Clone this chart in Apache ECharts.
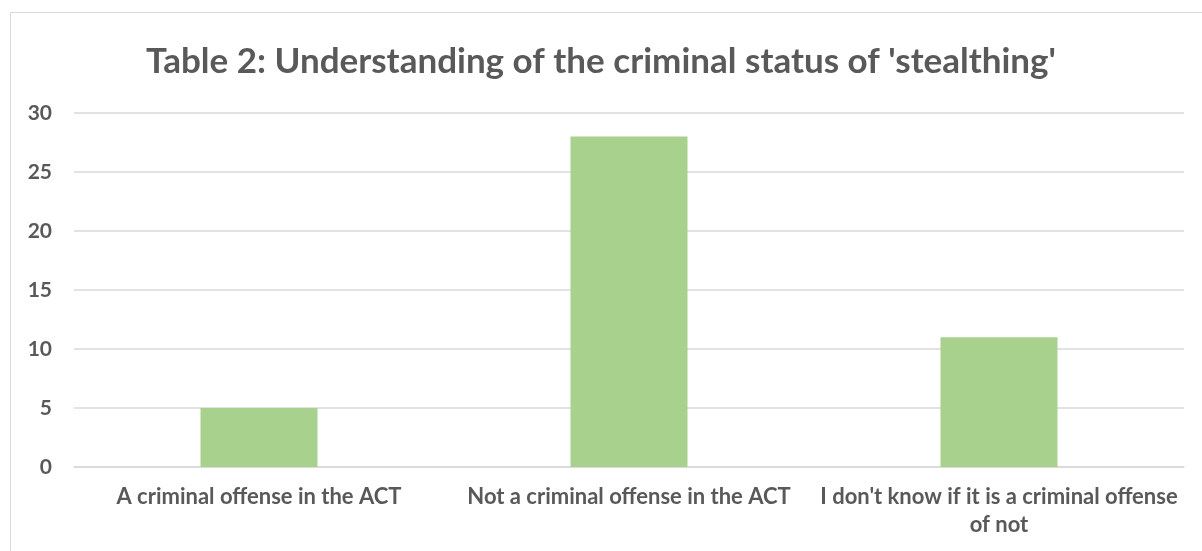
<!DOCTYPE html>
<html>
<head>
<meta charset="utf-8">
<script src="https://cdn.jsdelivr.net/npm/echarts@6/dist/echarts.min.js"></script>
<style>
  html, body { margin: 0; padding: 0; background: #fff; }
  #frame {
    position: absolute; left: 10px; top: 12px;
    width: 1200px; height: 550px;
    border: 1px solid #d9d9d9;
  }
  #chart { position: absolute; left: 0; top: 0; width: 1202px; height: 551px; }
</style>
</head>
<body>
<div id="frame"></div>
<div id="chart"></div>
<script>
const categories = [
  "A criminal offense in the ACT",
  "Not a criminal offense in the ACT",
  "I don't know if it is a criminal offense of not"
];
const counts = [5, 28, 11];
const yTicks = [0, 5, 10, 15, 20, 25, 30];

const textColor = "#595959";
const font = "Lato, 'Open Sans', sans-serif";

const myChart = echarts.init(document.getElementById("chart"));

const option = {
  animation: false,
  title: {
    text: "Table 2: Understanding of the criminal status of 'stealthing'",
    left: "center",
    top: 39,
    textStyle: { color: textColor, fontSize: 35, fontWeight: "bold", fontFamily: font }
  },
  grid: { left: 74, right: 18, top: 113, bottom: 84, containLabel: false },
  xAxis: {
    type: "category",
    data: categories,
    axisLine: { show: true, lineStyle: { color: "#d9d9d9", width: 1.5 } },
    axisTick: { show: false },
    axisLabel: {
      color: textColor,
      fontSize: 22,
      fontWeight: "bold",
      fontFamily: font,
      margin: 16,
      lineHeight: 28,
      interval: 0,
      formatter: (v) => v.replace(" offense of not", " offense\nof not")
    }
  },
  yAxis: {
    type: "value",
    min: yTicks[0],
    max: yTicks[yTicks.length - 1],
    interval: 5,
    axisLine: { show: false },
    axisTick: { show: false },
    splitLine: { lineStyle: { color: "#d9d9d9", width: 1.5 } },
    axisLabel: {
      color: textColor,
      fontSize: 21,
      fontWeight: "bold",
      fontFamily: font,
      margin: 22
    }
  },
  series: [
    {
      type: "bar",
      data: counts,
      barWidth: 117,
      itemStyle: { color: "#a9d18e" }
    }
  ]
};

myChart.setOption(option);
</script>
</body>
</html>
